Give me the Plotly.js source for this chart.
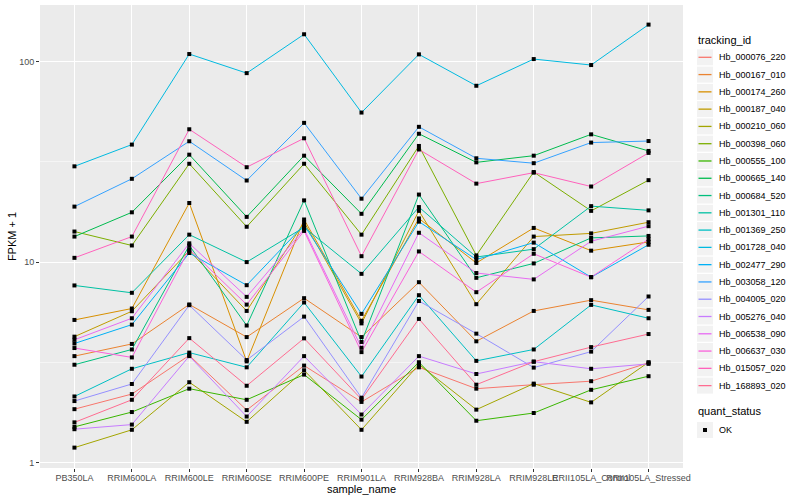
<!DOCTYPE html>
<html>
<head>
<meta charset="utf-8">
<script src="https://cdn.plot.ly/plotly-3.0.1.min.js"></script>
<style>html,body{margin:0;padding:0;background:#fff;}#chart{width:800px;height:500px;}</style>
</head>
<body>
<div id="chart"></div>
<script>
const categories = ['PB350LA','RRIM600LA','RRIM600LE','RRIM600SE','RRIM600PE','RRIM901LA','RRIM928BA','RRIM928LA','RRIM928LE','RRII105LA_Control','RRII105LA_Stressed'];

const trackingIds = ['Hb_000076_220','Hb_000167_010','Hb_000174_260','Hb_000187_040','Hb_000210_060','Hb_000398_060','Hb_000555_100','Hb_000665_140','Hb_000684_520','Hb_001301_110','Hb_001369_250','Hb_001728_040','Hb_002477_290','Hb_003058_120','Hb_004005_020','Hb_005276_040','Hb_006538_090','Hb_006637_030','Hb_015057_020','Hb_168893_020'];

const colors = ['#F8766D','#EA8331','#D89000','#C09B00','#A3A500','#7CAE00','#39B600','#00BB4E','#00BF7D','#00C1A3','#00BFC4','#00BAE0','#00B0F6','#35A2FF','#9590FF','#C77CFF','#E76BF3','#FA62DB','#FF62BC','#FF6C91'];

// FPKM + 1 values, one array per tracking_id (order = categories)
const hb_000076_220 = [1.85, 2.20, 3.43, 1.83, 3.05, 2.01, 2.99, 2.34, 2.45, 2.55, 3.15];
const hb_000167_010 = [3.40, 3.91, 6.15, 4.23, 6.61, 4.23, 7.94, 4.03, 5.71, 6.46, 5.78];
const hb_000174_260 = [5.15, 5.87, 19.7, 3.20, 16.3, 5.10, 16.5, 9.90, 14.8, 11.4, 12.6];
const hb_000187_040 = [4.25, 5.69, 11.4, 5.71, 15.8, 4.95, 18.0, 6.17, 13.4, 13.9, 15.8];
const hb_000210_060 = [1.19, 1.46, 2.52, 1.60, 2.89, 1.46, 3.09, 1.84, 2.48, 2.00, 3.17];
const hb_000398_060 = [14.2, 12.1, 30.9, 15.0, 30.9, 13.7, 37.9, 10.8, 28.1, 18.0, 25.6];
const hb_000555_100 = [1.51, 1.79, 2.34, 2.06, 2.75, 1.64, 3.17, 1.62, 1.77, 2.31, 2.70];
const hb_000665_140 = [13.4, 17.7, 34.3, 16.8, 33.9, 17.4, 43.6, 31.4, 33.9, 43.3, 35.8];
const hb_000684_520 = [3.08, 3.67, 12.1, 4.83, 20.3, 4.00, 21.7, 8.35, 9.85, 13.2, 13.5];
const hb_001301_110 = [7.65, 7.03, 13.7, 10.0, 14.9, 8.74, 18.8, 10.6, 11.6, 19.0, 18.1];
const hb_001369_250 = [2.14, 2.94, 3.54, 2.99, 6.29, 2.69, 6.84, 3.22, 3.67, 6.12, 5.25];
const hb_001728_040 = [30.0, 38.5, 108.8, 87.4, 136.5, 55.6, 108.4, 75.6, 102.7, 95.9, 152.5];
const hb_002477_290 = [3.93, 4.88, 11.1, 7.67, 15.3, 5.52, 15.9, 10.3, 12.5, 8.41, 12.2];
const hb_003058_120 = [18.9, 26.0, 40.0, 25.5, 49.4, 20.7, 47.2, 32.9, 31.1, 39.4, 40.1];
const hb_004005_020 = [2.03, 2.47, 6.10, 3.25, 5.35, 2.11, 6.40, 4.40, 2.98, 3.58, 6.74];
const hb_005276_040 = [1.47, 1.55, 3.40, 1.70, 3.40, 1.74, 3.40, 2.77, 3.19, 2.94, 3.11];
const hb_006538_090 = [4.10, 5.25, 12.4, 6.71, 14.6, 3.74, 14.0, 8.82, 8.20, 12.7, 15.1];
const hb_006637_030 = [3.73, 3.35, 11.6, 6.14, 14.3, 3.56, 11.3, 7.08, 11.0, 8.41, 13.0];
const hb_015057_020 = [10.5, 13.4, 45.9, 29.7, 41.4, 10.7, 36.4, 24.6, 27.9, 23.8, 35.0];
const hb_168893_020 = [1.59, 2.06, 4.18, 2.42, 4.17, 2.07, 5.21, 2.45, 3.19, 3.77, 4.38];

const seriesValues = [hb_000076_220, hb_000167_010, hb_000174_260, hb_000187_040, hb_000210_060, hb_000398_060, hb_000555_100, hb_000665_140, hb_000684_520, hb_001301_110, hb_001369_250, hb_001728_040, hb_002477_290, hb_003058_120, hb_004005_020, hb_005276_040, hb_006538_090, hb_006637_030, hb_015057_020, hb_168893_020];

const quantStatus = ['OK'];

const traces = trackingIds.map((id, i) => ({
  type: 'scatter', mode: 'lines', name: id,
  x: categories, y: seriesValues[i],
  line: {color: colors[i], width: 1},
  showlegend: false, hoverinfo: 'skip'
}));

const px = [], py = [];
seriesValues.forEach(vals => vals.forEach((v, j) => { px.push(categories[j]); py.push(v); }));
traces.push({
  type: 'scatter', mode: 'markers', name: quantStatus[0],
  x: px, y: py,
  marker: {color: '#000000', size: 4, symbol: 'square'},
  showlegend: false, hoverinfo: 'skip'
});

// ---- legend (ggplot-style), built from the arrays above ----
const W = 800, H = 500;
const M = {l: 40, r: 117, t: 5, b: 32};
const pw = W - M.l - M.r, ph = H - M.t - M.b;
const fx = p => (p - M.l) / pw;          // pixel x -> paper x
const fy = p => (H - M.b - p) / ph;      // pixel y -> paper y
const font = 'Liberation Sans, Arial, sans-serif';

const shapes = [], annotations = [];
const legX = 697, keyW = 16, keyH = 16, pitch = 17.28, firstY = 57.3, textX = 717;
annotations.push({xref: 'paper', yref: 'paper', x: fx(legX - 1), y: fy(40), xanchor: 'left', yanchor: 'middle',
  text: 'tracking_id', showarrow: false, font: {family: font, size: 11, color: '#000000'}});
trackingIds.forEach((id, i) => {
  const cy = firstY + pitch * i;
  shapes.push({type: 'rect', xref: 'paper', yref: 'paper', x0: fx(legX), x1: fx(legX + keyW),
    y0: fy(cy - keyH / 2), y1: fy(cy + keyH / 2), fillcolor: '#F2F2F2', line: {width: 0}, layer: 'above'});
  shapes.push({type: 'line', xref: 'paper', yref: 'paper', x0: fx(legX + 1.5), x1: fx(legX + keyW - 1.5),
    y0: fy(cy), y1: fy(cy), line: {color: colors[i], width: 1.3}, layer: 'above'});
  annotations.push({xref: 'paper', yref: 'paper', x: fx(textX), y: fy(cy), xanchor: 'left', yanchor: 'middle',
    text: id, showarrow: false, font: {family: font, size: 9, color: '#000000'}});
});
const qTitleY = 411, qFirstY = 430;
annotations.push({xref: 'paper', yref: 'paper', x: fx(legX - 1), y: fy(qTitleY), xanchor: 'left', yanchor: 'middle',
  text: 'quant_status', showarrow: false, font: {family: font, size: 11, color: '#000000'}});
quantStatus.forEach((q, i) => {
  const cy = qFirstY + pitch * i;
  shapes.push({type: 'rect', xref: 'paper', yref: 'paper', x0: fx(legX), x1: fx(legX + keyW),
    y0: fy(cy - keyH / 2), y1: fy(cy + keyH / 2), fillcolor: '#F2F2F2', line: {width: 0}, layer: 'above'});
  shapes.push({type: 'rect', xref: 'paper', yref: 'paper', x0: fx(legX + keyW / 2 - 2), x1: fx(legX + keyW / 2 + 2),
    y0: fy(cy - 2), y1: fy(cy + 2), fillcolor: '#000000', line: {width: 0}, layer: 'above'});
  annotations.push({xref: 'paper', yref: 'paper', x: fx(textX), y: fy(cy), xanchor: 'left', yanchor: 'middle',
    text: q, showarrow: false, font: {family: font, size: 9, color: '#000000'}});
});

const layout = {
  width: W, height: H,
  margin: M,
  paper_bgcolor: '#FFFFFF', plot_bgcolor: '#EBEBEB',
  font: {family: font, size: 9, color: '#000000'},
  showlegend: false,
  xaxis: {
    type: 'category', range: [-0.6, 10.6], automargin: false,
    tickangle: 0, ticks: 'outside', ticklen: 3, tickcolor: '#333333', tickwidth: 1,
    ticklabelstandoff: -2,
    tickfont: {family: font, size: 9, color: '#4D4D4D'},
    showgrid: true, gridcolor: '#FFFFFF', gridwidth: 1, zeroline: false, showline: false,
    title: {text: 'sample_name', font: {family: font, size: 11, color: '#000000'}, standoff: 0}
  },
  yaxis: {
    type: 'log', range: [-0.026, 2.281], automargin: false,
    tickmode: 'array', tickvals: [1, 10, 100], ticktext: ['1', '10', '100'],
    ticks: 'outside', ticklen: 3, tickcolor: '#333333', tickwidth: 1,
    tickfont: {family: font, size: 9, color: '#4D4D4D'},
    showgrid: true, gridcolor: '#FFFFFF', gridwidth: 1, zeroline: false, showline: false,
    minor: {tickmode: 'array', tickvals: [Math.sqrt(10), Math.sqrt(1000)], showgrid: true, gridcolor: '#FFFFFF', gridwidth: 0.5, ticks: ''},
    title: {text: 'FPKM + 1', font: {family: font, size: 11, color: '#000000'}, standoff: 0}
  },
  shapes: shapes,
  annotations: annotations
};

Plotly.newPlot('chart', traces, layout, {staticPlot: true, displayModeBar: false});
</script>
</body>
</html>
